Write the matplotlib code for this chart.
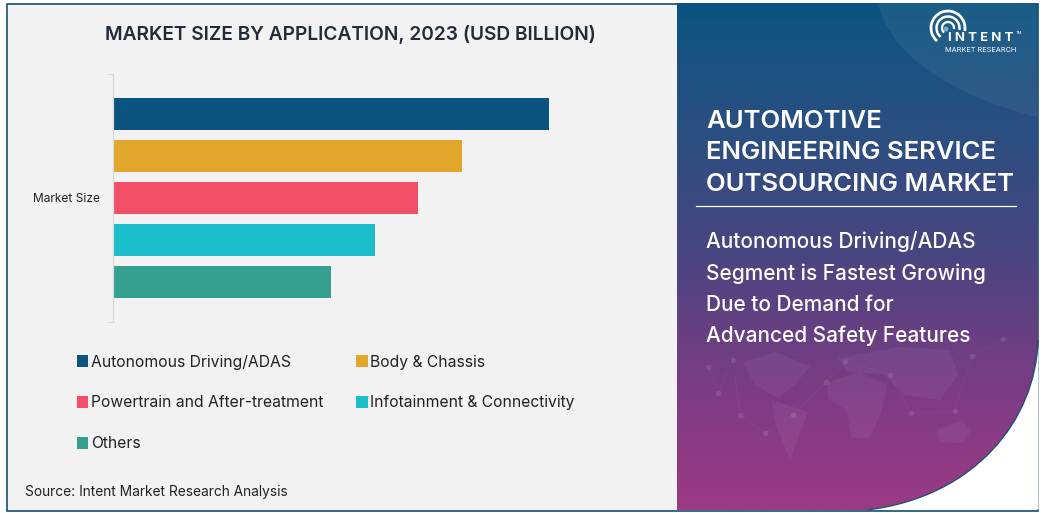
import numpy as np
import matplotlib
matplotlib.use('Agg')
import matplotlib.pyplot as plt
from matplotlib.colors import LinearSegmentedColormap
from matplotlib.patches import Rectangle, PathPatch, Arc, Polygon, Circle
from matplotlib.path import Path

plt.rcParams['font.family'] = ['Inter', 'DejaVu Sans']

# chart data, bar lengths (no value axis in the original)
segments = ['Autonomous Driving/ADAS', 'Body & Chassis', 'Powertrain and After-treatment',
            'Infotainment & Connectivity', 'Others']
values = [5.0, 4.0, 3.5, 3.0, 2.5]
colors = ['#0B5480', '#E2A62B', '#F24E68', '#1ABFCB', '#35A08F']
category = 'Market Size'

W, H = 1043, 513
fig = plt.figure(figsize=(W / 100, H / 100), dpi=100, facecolor='white')

# background layer in pixel coordinates
bg = fig.add_axes([0, 0, 1, 1])
bg.set_xlim(0, W)
bg.set_ylim(H, 0)
bg.axis('off')

bg.add_patch(Rectangle((7, 3.5), 1031, 507, fc='#F2F2F2', ec='#14506F', lw=1.2, zorder=1))

# right hand gradient panel with the rounded bottom corner
grad_cmap = LinearSegmentedColormap.from_list('panel', ['#0B5480', '#2A4F80', '#4A4580', '#7A3C84', '#9C3A85'])
grad = np.linspace(0, 1, 256).reshape(-1, 1)
im = bg.imshow(grad, cmap=grad_cmap, extent=(677, 1038, 510, 3), aspect='auto', zorder=2)
panel_path = Path(
    [(677, 3), (1038, 3), (1038, 340), (1036, 420), (975, 497), (867, 510), (677, 510), (677, 3)],
    [Path.MOVETO, Path.LINETO, Path.LINETO, Path.CURVE4, Path.CURVE4, Path.CURVE4, Path.LINETO, Path.CLOSEPOLY])
white_corner = Path(
    [(1038.6, 340), (1036, 420), (975, 497), (867, 510), (867, 509.5), (1038.6, 509.5), (1038.6, 340)],
    [Path.MOVETO, Path.CURVE4, Path.CURVE4, Path.CURVE4, Path.LINETO, Path.LINETO, Path.CLOSEPOLY])
panel_patch = PathPatch(panel_path, fc='none', ec='none', transform=bg.transData)
bg.add_patch(panel_patch)
im.set_clip_path(panel_patch)
bg.add_patch(PathPatch(white_corner, fc='white', ec='none', zorder=2.1))
bg.add_patch(PathPatch(Path(panel_path.vertices[2:6], [Path.MOVETO, Path.CURVE4, Path.CURVE4, Path.CURVE4]),
                       fc='none', ec='#14506F', lw=0.9, zorder=2.2))

# lighter swoosh in the top right corner
swoosh = Path(
    [(878, 3), (890, 55), (950, 95), (1037, 117), (1037, 3), (878, 3)],
    [Path.MOVETO, Path.CURVE4, Path.CURVE4, Path.CURVE4, Path.LINETO, Path.CLOSEPOLY])
bg.add_patch(PathPatch(swoosh, fc='white', ec='none', alpha=0.06, zorder=3))

# faint world map blobs
land = [
    [(743, 362), (775, 352), (810, 366), (795, 385), (778, 398), (755, 385)],
    [(772, 400), (808, 412), (798, 438), (790, 460), (782, 440), (774, 420)],
    [(828, 382), (860, 372), (887, 385), (882, 410), (870, 438), (852, 438), (846, 410), (828, 398)],
    [(838, 358), (900, 347), (950, 350), (958, 375), (940, 400), (905, 395), (885, 375), (848, 372)],
    [(937, 430), (962, 420), (970, 432), (962, 443), (940, 442)],
]
for pts in land:
    bg.add_patch(Polygon(pts, closed=True, fc='white', ec='none', alpha=0.05, zorder=3))
net_x = [708, 718, 733, 740, 765, 793, 826, 845, 890, 911, 955, 972, 1003]
net_y = [367, 393, 360, 415, 433, 415, 382, 361, 375, 413, 411, 356, 339]
bg.plot(net_x, net_y, color='white', lw=0.3, alpha=0.08, zorder=3)
bg.scatter(net_x, net_y, s=16, color='white', alpha=0.1, lw=0, zorder=3)

# bars
ax = fig.add_axes([113 / W, 1 - 322 / H, 523 / W, 248 / H])
ax.patch.set_alpha(0)
offsets = np.array([-2, -1, 0, 1, 2]) * 0.169
for name, val, col, off in zip(segments, values, colors, offsets):
    ax.barh(0 - off, val, height=0.129, color=col, label=name)
ax.set_xlim(0, 6)
ax.set_ylim(-0.5, 0.5)
ax.set_xticks([])
ax.set_yticks([0])
ax.set_yticklabels([category], fontsize=8.6, color='#222222')
ax.set_yticks([-0.5, 0.5], minor=True)
ax.tick_params(axis='y', which='major', length=0, pad=9.4)
ax.tick_params(axis='y', which='minor', length=4, color='#D9D9D9', width=0.8)
for side in ['top', 'right', 'bottom']:
    ax.spines[side].set_visible(False)
ax.spines['left'].set_color('#D9D9D9')
ax.spines['left'].set_linewidth(0.9)

# legend reads row by row in the original, matplotlib fills column by column
handles, labels = ax.get_legend_handles_labels()
order = [0, 2, 4, 1, 3]
fig.legend([handles[i] for i in order], [labels[i] for i in order], ncol=2,
           loc='upper left', bbox_to_anchor=(77 / W, 1 - 354.5 / H), bbox_transform=fig.transFigure,
           frameon=False, fontsize=11.3, labelcolor='#222222', handlelength=0.72, handleheight=0.75,
           handletextpad=0.17, labelspacing=1.65, columnspacing=2.1, borderpad=0, borderaxespad=0)

# texts
bg.text(350.5, 34.5, 'MARKET SIZE BY APPLICATION, 2023 (USD BILLION)', ha='center', va='center',
        fontsize=13.75, fontweight='semibold', color='#222B38', zorder=5)
bg.text(25, 492, 'Source: Intent Market Research Analysis', ha='left', va='center',
        fontsize=9.9, color='#222222', zorder=5)

for y, line in zip([121, 152.5, 184.5], ['AUTOMOTIVE', 'ENGINEERING SERVICE', 'OUTSOURCING MARKET']):
    bg.text(706, y, line, ha='left', va='center', fontsize=18.5, fontweight='semibold', color='white', zorder=5)
bg.plot([696, 1016], [206, 206], color='white', lw=0.9, zorder=5)
for y, line in zip([242, 273.5, 305, 336], ['Autonomous Driving/ADAS', 'Segment is Fastest Growing',
                                            'Due to Demand for', 'Advanced Safety Features']):
    bg.text(706.5, y, line, ha='left', va='center', fontsize=15, fontweight='medium', color='white', zorder=5)

# logo
for r, lw in [(6, 1.6), (11.5, 1.8), (17, 2.0)]:
    bg.add_patch(Arc((948, 28), 2 * r, 2 * r, theta1=130, theta2=370, color='white', lw=lw, zorder=5))
bg.add_patch(Circle((946, 29), 2.5, fc='#7FA6C0', ec='none', zorder=5))
bg.text(981, 38, 'I N T E N T', ha='center', va='center', fontsize=9.5, fontweight='bold', color='white', zorder=6)
bg.text(981, 50, 'MARKET RESEARCH', ha='center', va='center', fontsize=5.3, color='white', zorder=6)
bg.text(1019, 33, 'TM', ha='center', va='center', fontsize=3, color='white', zorder=6)

fig.savefig('out.png', dpi=100)
